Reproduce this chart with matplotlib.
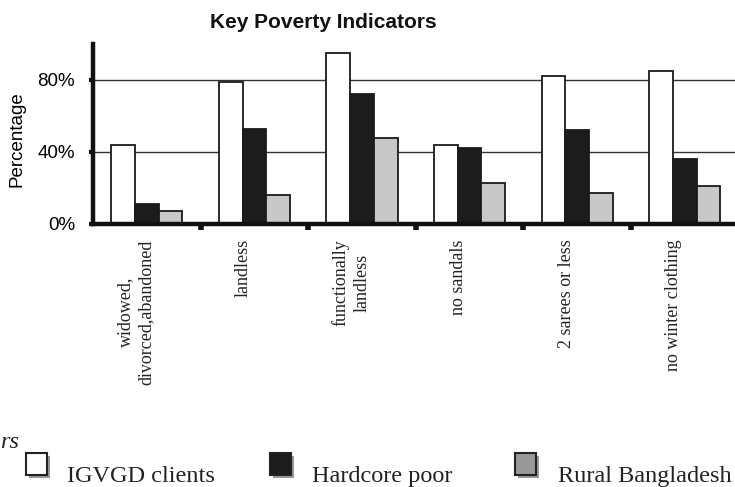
import matplotlib.pyplot as plt
import matplotlib.patheffects as pe
import matplotlib.transforms as mtransforms
import numpy as np
from matplotlib.patches import Rectangle
from matplotlib.ticker import FixedLocator

categories = [
  'widowed,\ndivorced,abandoned',
  'landless',
  'functionally\nlandless',
  'no sandals',
  '2 sarees or less',
  'no winter clothing',
]
series_names = ['IGVGD clients', 'Hardcore poor', 'Rural Bangladesh']
igvgd = [44, 79, 95, 44, 82, 85]
hardcore = [11, 53, 72, 42, 52, 36]
rural = [7, 16, 48, 23, 17, 21]
y_ticks = [0, 40, 80]
y_tick_labels = ['0%', '40%', '80%']


def main():
  plt.rcParams['font.family'] = ['Liberation Sans', 'DejaVu Sans']
  fig = plt.figure(figsize=(7.35, 4.87), dpi=100)
  ax = fig.add_axes([93/735, 263/487, 645.6/735, 180/487])

  x = np.arange(len(categories))
  w = 0.22
  bar_colors = ['white', '#1c1c1c', '#c8c8c8']
  for i, vals in enumerate([igvgd, hardcore, rural]):
    ax.bar(x + (i - 1)*w, vals, width=w, color=bar_colors[i],
           edgecolor='#1a1a1a', linewidth=1.3, zorder=3)

  ax.set_xlim(-0.5, len(categories) - 0.5)
  ax.set_ylim(0, 100)

  # grid
  for yv in y_ticks[1:]:
    ax.axhline(yv, color='#333333', linewidth=1.0, zorder=1)

  for s in ['top', 'right']:
    ax.spines[s].set_visible(False)
  for s in ['left', 'bottom']:
    ax.spines[s].set_linewidth(3.2)
    ax.spines[s].set_color('#111111')
    ax.spines[s].set_zorder(4)

  ax.set_yticks(y_ticks)
  ax.set_yticklabels(y_tick_labels, fontsize=13.5)
  ax.tick_params(axis='y', length=3, width=3, pad=10, color='#111111')

  ax.set_xticks(x)
  ax.set_xticklabels(categories, rotation=90, fontsize=13,
                     family=['Liberation Serif', 'DejaVu Serif'],
                     multialignment='center', linespacing=1.3, color='#222222')
  ax.tick_params(axis='x', which='major', length=0, pad=11)
  ax.xaxis.set_minor_locator(FixedLocator(x[:-1] + 0.5))
  ax.tick_params(axis='x', which='minor', length=4, width=4, color='#111111')
  shift = mtransforms.ScaledTranslation(-11/100, 0, fig.dpi_scale_trans)
  for lab in ax.get_xticklabels():
    lab.set_transform(lab.get_transform() + shift)

  ax.set_ylabel('Percentage', fontsize=13.5)
  ax.yaxis.set_label_coords(-0.105, 0.47)

  fig.text(323/735, 459/487, 'Key Poverty Indicators', fontsize=15,
           fontweight='bold', ha='center', va='baseline', color='#111111')

  # legend drawn by hand
  serif = ['Liberation Serif', 'DejaVu Serif']
  fig.text(0.0, 39/487, 'rs', fontsize=17.5, style='italic', family=serif,
           ha='left', va='baseline', color='#222222')
  legend_fill = ['white', '#1c1c1c', '#999999']
  box_x = [26, 270, 515]
  text_x = [67, 312, 558]
  for name, fc, bx, tx in zip(series_names, legend_fill, box_x, text_x):
    r = Rectangle((bx/735, 12/487), 21/735, 22/487, transform=fig.transFigure,
                  facecolor=fc, edgecolor='#222222', linewidth=1.5)
    r.set_path_effects([pe.SimplePatchShadow(offset=(2.5, -2.5), alpha=0.6,
                                             shadow_rgbFace='#555555'),
                        pe.Normal()])
    fig.patches.append(r)
    fig.text(tx/735, 5/487, name, fontsize=17.5, family=serif,
             ha='left', va='baseline', color='#222222')

  fig.savefig('out.png', dpi=100)


if __name__ == "__main__":
  main()
